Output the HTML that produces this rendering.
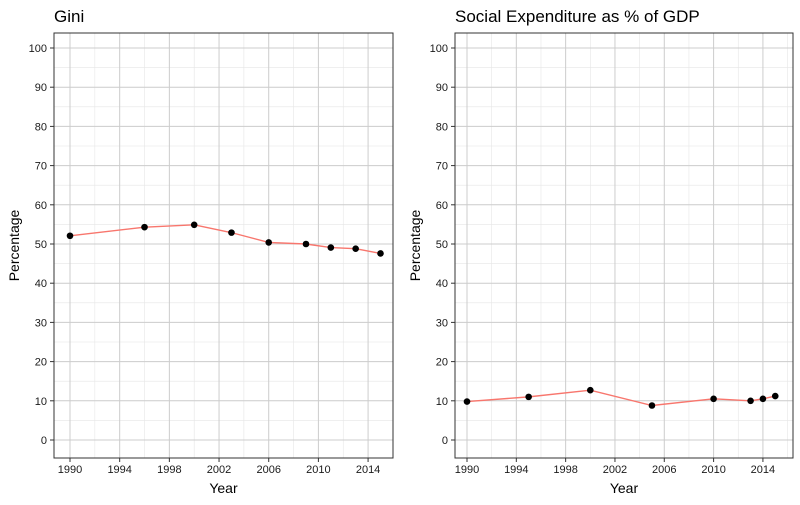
<!DOCTYPE html>
<html><head><meta charset="utf-8"><style>body{margin:0;background:#fff}svg{font-family:"Liberation Sans",sans-serif}</style></head>
<body>
<svg id="c" width="800" height="500" xmlns="http://www.w3.org/2000/svg"></svg>
<script>
const giniYears=[1990,1996,2000,2003,2006,2009,2011,2013,2015];
const giniValues=[52.1,54.3,54.9,52.9,50.4,50.0,49.1,48.8,47.6];
const socYears=[1990,1995,2000,2005,2010,2013,2014,2015];
const socValues=[9.8,11.0,12.7,8.8,10.5,10.0,10.5,11.2];
const yTicks=[0,10,20,30,40,50,60,70,80,90,100];
const xTicks=[1990,1994,1998,2002,2006,2010,2014];
const titles=["Gini","Social Expenditure as % of GDP"];
const svg=document.getElementById('c');
const NS='http://www.w3.org/2000/svg';
function mk(t,a,p){const e=document.createElementNS(NS,t);for(const k in a)e.setAttribute(k,a[k]);(p||svg).appendChild(e);return e;}
function panel(L,R,x1990,pxYr,years,vals,title,id){
  const T=33,B=458;
  const g=mk('g',{});
  
  
  const xs=y=>x1990+(y-1990)*pxYr, ys=v=>440-v*3.92;
  for(let v=-5;v<=105;v+=10){const y=ys(v);if(y>T&&y<B)mk('line',{x1:L,x2:R,y1:y,y2:y,stroke:'#e6e6e6','stroke-width':0.6},g);}
  for(let yr=1988;yr<=2018;yr+=4){const x=xs(yr);if(x>L&&x<R)mk('line',{x1:x,x2:x,y1:T,y2:B,stroke:'#e6e6e6','stroke-width':0.6},g);}
  yTicks.forEach(v=>{const y=ys(v);mk('line',{x1:L,x2:R,y1:y,y2:y,stroke:'#cccccc','stroke-width':1},g);
    mk('line',{x1:L-4,x2:L,y1:y,y2:y,stroke:'#333'},g);
    const t=mk('text',{x:L-7,y:y+4,'text-anchor':'end','font-size':11,fill:'#1a1a1a'},g);t.textContent=v;
    });
  xTicks.forEach(yr=>{const x=xs(yr);mk('line',{x1:x,x2:x,y1:T,y2:B,stroke:'#cccccc','stroke-width':1},g);
    mk('line',{x1:x,x2:x,y1:B,y2:B+4,stroke:'#333'},g);
    const t=mk('text',{x:x,y:B+15,'text-anchor':'middle','font-size':11,fill:'#1a1a1a'},g);t.textContent=yr;
    });
  mk('rect',{x:L,y:T,width:R-L,height:B-T,fill:'none',stroke:'#333','stroke-width':1},g);
  const pl=mk('polyline',{points:years.map((y,i)=>xs(y)+','+ys(vals[i])).join(' '),fill:'none',stroke:'#f8766d','stroke-width':1.4},g);
  
  years.forEach((y,i)=>{const c=mk('circle',{cx:xs(y),cy:ys(vals[i]),r:3.3,fill:'#000'},g);
    });
  let t=mk('text',{x:L,y:22,'font-size':17,fill:'#000'},g);t.textContent=title;
  
  t=mk('text',{x:(L+R)/2,y:493,'text-anchor':'middle','font-size':14,fill:'#000'},g);t.textContent='Year';
  
  t=mk('text',{x:0,y:0,'text-anchor':'middle','font-size':14,fill:'#000',transform:`translate(${L-35},${(T+B)/2}) rotate(-90)`},g);t.textContent='Percentage';
  
}
panel(54,393,70,12.42,giniYears,giniValues,titles[0],'gini');
panel(455,793,467,12.33,socYears,socValues,titles[1],'social-expenditure');
</script>
</body></html>
